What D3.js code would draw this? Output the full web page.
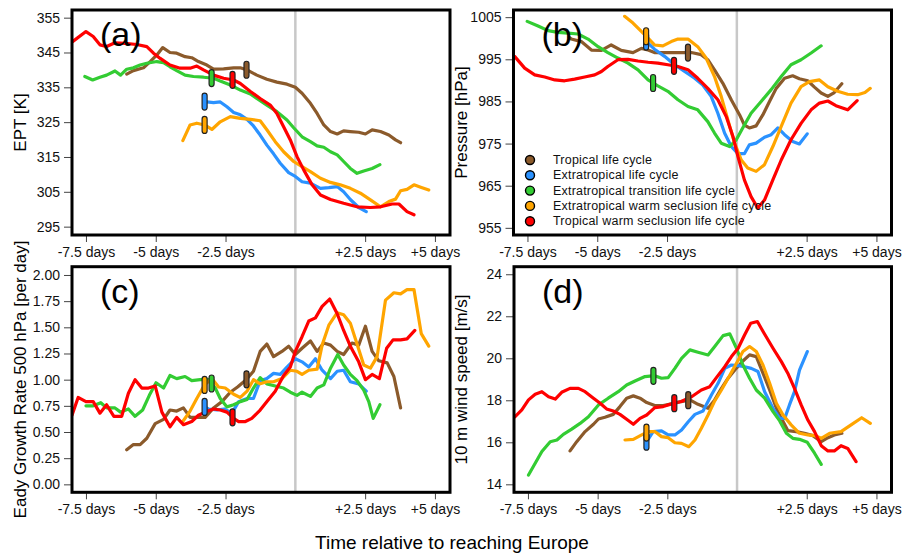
<!DOCTYPE html>
<html>
<head>
<meta charset="utf-8">
<script src="https://cdn.jsdelivr.net/npm/d3@7"></script>
<style>
  html, body { margin: 0; padding: 0; background: #fff; }
  svg { display: block; font-family: "Liberation Sans", Arial, Helvetica, sans-serif; }
</style>
</head>
<body>
<svg id="chart" width="903" height="557"></svg>
<script>
// Life-cycle groups (legend order = drawing order)
const seriesNames = [
  "Tropical life cycle",
  "Extratropical life cycle",
  "Extratropical transition life cycle",
  "Extratropical warm seclusion life cycle",
  "Tropical warm seclusion life cycle"
];
const seriesColors = ["#8B5A2B", "#2B92FF", "#33CC33", "#FFA500", "#FF0000"];
// Day on which each group's marker is placed
const markerDays = [-1.75, -3.25, -3.0, -3.25, -2.25];

// x-axis ticks (days relative to reaching Europe)
const xTickValues = [-7.5, -5, -2.5, 2.5, 5];
const xTickLabels = ["-7.5 days", "-5 days", "-2.5 days", "+2.5 days", "+5 days"];

// Panel (a): equivalent potential temperature [K], [day, value]
const eptTropical = [[-6.04,338.8],[-5.8,339.8],[-5.44,340.6],[-5.2,342.4],[-4.96,344.3],[-4.75,346.4],[-4.49,345.0],[-4.25,344.8],[-3.95,343.8],[-3.71,343.5],[-3.47,342.4],[-3.17,341.4],[-2.93,340.2],[-2.57,340.3],[-2.21,340.6],[-1.97,340.6],[-1.73,340.0],[-1.38,338.5],[-1.02,337.3],[-0.66,336.5],[-0.3,335.9],[0,335.0],[0.24,333.3],[0.54,330.4],[0.78,327.5],[1.02,324.2],[1.26,322.3],[1.5,321.6],[1.73,322.5],[1.97,322.3],[2.27,322.1],[2.51,321.6],[2.75,322.8],[3.05,322.3],[3.35,321.3],[3.59,319.9],[3.77,319.1]];
const eptExtratropical = [[-3.25,330.9],[-2.93,330.6],[-2.69,330.8],[-2.45,329.4],[-2.21,327.8],[-1.97,327.1],[-1.73,325.8],[-1.5,323.9],[-1.26,321.3],[-1.02,318.4],[-0.78,315.9],[-0.54,313.2],[-0.24,310.5],[0,309.4],[0.24,307.9],[0.54,307.5],[0.9,306.0],[1.2,306.2],[1.5,306.5],[1.73,305.0],[1.97,302.8],[2.27,300.5],[2.54,299.3]];
const eptTransition = [[-7.54,338.1],[-7.26,337.1],[-7.0,337.9],[-6.76,338.5],[-6.46,339.7],[-6.26,338.5],[-6.04,340.2],[-5.8,340.6],[-5.56,341.4],[-5.32,341.9],[-4.96,342.4],[-4.72,342.1],[-4.49,340.9],[-4.25,339.8],[-3.95,338.5],[-3.65,338.1],[-3.29,337.9],[-2.93,337.6],[-2.69,336.8],[-2.33,335.7],[-1.97,334.2],[-1.61,333.1],[-1.38,331.8],[-1.02,329.9],[-0.66,328.0],[-0.3,325.6],[-0.06,323.4],[0.24,320.8],[0.54,319.4],[0.78,318.2],[1.02,317.8],[1.26,316.5],[1.5,315.6],[1.73,313.7],[1.97,311.7],[2.21,310.3],[2.45,311.0],[2.75,311.7],[3.03,312.8]];
const eptExtraSeclusion = [[-4.03,319.7],[-3.77,324.2],[-3.53,324.7],[-3.25,324.2],[-2.99,322.9],[-2.69,325.1],[-2.33,326.6],[-1.97,326.1],[-1.61,325.8],[-1.26,325.4],[-1.02,322.8],[-0.72,319.4],[-0.42,316.5],[-0.06,313.7],[0.24,312.2],[0.54,310.8],[0.9,308.9],[1.26,307.7],[1.61,307.0],[1.97,306.0],[2.33,304.6],[2.69,302.7],[3.05,300.7],[3.35,302.2],[3.59,302.9],[3.77,305.3],[4.0,305.7],[4.25,307.0],[4.49,306.3],[4.78,305.5]];
const eptTropSeclusion = [[-7.98,348.1],[-7.5,351.0],[-7.24,349.6],[-7.0,347.2],[-6.76,346.7],[-6.46,347.8],[-6.1,347.6],[-5.68,347.3],[-5.32,346.7],[-5.08,344.8],[-4.84,343.3],[-4.49,341.4],[-4.13,340.5],[-3.77,340.5],[-3.53,341.1],[-3.29,340.0],[-2.93,338.5],[-2.57,337.6],[-2.21,337.1],[-1.97,336.1],[-1.61,333.8],[-1.26,331.8],[-0.9,329.9],[-0.66,327.5],[-0.42,323.7],[-0.18,319.9],[0.06,315.1],[0.3,311.3],[0.6,307.0],[0.9,304.1],[1.26,302.8],[1.73,301.7],[2.21,300.7],[2.69,300.5],[3.05,300.7],[3.47,301.5],[3.71,301.5],[4.0,299.3],[4.25,298.4]];

// Panel (b): minimum pressure [hPa]
const presTropical = [[-6.0,1000.2],[-5.93,999.8],[-5.57,999.2],[-5.21,997.2],[-4.85,997.1],[-4.5,998.4],[-4.14,997.1],[-3.72,996.6],[-3.42,997.6],[-3.18,997.2],[-2.95,996.6],[-2.59,996.6],[-2.11,996.6],[-1.63,996.6],[-1.28,996.1],[-1.04,994.9],[-0.8,992.5],[-0.5,989.3],[-0.2,985.4],[0.1,981.8],[0.27,979.4],[0.45,978.7],[0.69,979.2],[0.93,981.8],[1.17,985.0],[1.41,988.1],[1.71,990.5],[2.0,991.1],[2.24,990.4],[2.54,989.9],[2.78,988.4],[3.02,987.0],[3.26,986.2],[3.49,987.1],[3.76,989.2]];
const presExtratropical = [[-3.24,999.2],[-2.95,997.4],[-2.59,995.7],[-2.23,993.7],[-1.87,992.1],[-1.51,990.5],[-1.22,988.9],[-0.92,986.2],[-0.68,982.2],[-0.44,977.5],[-0.2,974.3],[0.04,972.6],[0.27,972.6],[0.45,974.7],[0.69,975.1],[0.99,976.5],[1.23,977.1],[1.47,978.7],[1.71,977.1],[2.0,975.5],[2.24,974.9],[2.52,977.3]];
const presTransition = [[-7.51,1004.0],[-7.12,1002.9],[-6.76,1001.8],[-6.41,1001.4],[-6.05,1001.2],[-5.69,1001.0],[-5.33,999.8],[-4.97,998.0],[-4.62,996.6],[-4.26,995.3],[-3.9,994.1],[-3.54,992.5],[-3.18,990.1],[-2.83,988.7],[-2.47,987.4],[-2.11,985.4],[-1.75,983.8],[-1.4,983.0],[-1.04,980.2],[-0.8,977.5],[-0.56,975.1],[-0.26,974.3],[-0.02,975.9],[0.21,978.7],[0.51,982.2],[0.87,985.0],[1.23,987.8],[1.59,990.9],[1.94,993.7],[2.3,994.9],[2.66,996.5],[3.02,998.2]];
const presExtraSeclusion = [[-4.02,1005.2],[-3.72,1003.6],[-3.42,1001.6],[-3.18,1000.0],[-2.95,998.4],[-2.65,998.2],[-2.35,999.2],[-2.11,999.8],[-1.75,999.8],[-1.4,998.0],[-1.1,995.3],[-0.8,990.9],[-0.56,986.2],[-0.32,980.6],[-0.08,975.1],[0.16,971.1],[0.39,969.2],[0.69,968.4],[0.99,970.0],[1.29,974.3],[1.59,979.1],[1.94,984.6],[2.3,988.5],[2.6,989.7],[2.96,990.1],[3.26,988.5],[3.61,987.4],[3.97,986.7],[4.33,986.6],[4.59,987.1],[4.78,988.1]];
const presTropSeclusion = [[-7.96,995.7],[-7.6,992.9],[-7.24,991.3],[-6.88,990.8],[-6.52,990.1],[-6.17,989.9],[-5.81,990.3],[-5.45,990.8],[-5.09,991.3],[-4.85,992.1],[-4.62,993.3],[-4.26,994.9],[-3.9,995.0],[-3.54,994.6],[-3.18,994.3],[-2.83,994.1],[-2.47,993.7],[-2.11,993.3],[-1.75,992.5],[-1.4,990.5],[-1.04,988.1],[-0.68,985.4],[-0.38,981.4],[-0.14,976.7],[0.04,971.9],[0.27,966.4],[0.51,962.4],[0.75,959.7],[0.99,961.6],[1.29,966.4],[1.59,971.1],[1.94,975.9],[2.3,979.8],[2.66,983.0],[2.96,984.6],[3.26,985.1],[3.55,984.0],[3.97,983.0],[4.31,985.2]];

// Panel (c): Eady growth rate at 500 hPa [per day]
const eadyTropical = [[-6.04,0.33],[-5.8,0.38],[-5.56,0.38],[-5.32,0.44],[-5.02,0.58],[-4.72,0.62],[-4.49,0.71],[-4.25,0.70],[-4.01,0.73],[-3.77,0.64],[-3.53,0.64],[-3.23,0.64],[-2.93,0.73],[-2.63,0.79],[-2.33,0.88],[-2.07,0.93],[-1.76,1.0],[-1.5,1.08],[-1.26,1.27],[-1.02,1.34],[-0.78,1.22],[-0.48,1.27],[-0.24,1.32],[0,1.24],[0.24,1.3],[0.54,1.37],[0.78,1.27],[1.02,1.35],[1.26,1.33],[1.5,1.27],[1.73,1.24],[2.03,1.35],[2.27,1.33],[2.51,1.51],[2.75,1.27],[2.99,1.18],[3.29,1.16],[3.53,1.03],[3.77,0.73]];
const eadyExtratropical = [[-3.25,0.74],[-3.11,0.72],[-2.81,0.71],[-2.55,0.72],[-2.27,0.68],[-2.03,0.79],[-1.73,0.82],[-1.5,0.82],[-1.26,0.99],[-1.02,1.01],[-0.78,1.06],[-0.54,1.05],[-0.3,1.12],[0,1.2],[0.24,1.17],[0.48,1.12],[0.72,1.2],[0.96,1.09],[1.26,1.01],[1.5,1.08],[1.73,1.09],[1.97,0.98],[2.27,0.96],[2.54,0.89]];
const eadyTransition = [[-7.5,0.75],[-7.24,0.75],[-6.97,0.78],[-6.76,0.73],[-6.46,0.73],[-6.26,0.69],[-5.98,0.72],[-5.74,0.65],[-5.47,0.71],[-5.23,0.85],[-4.99,0.97],[-4.72,0.92],[-4.49,1.04],[-4.25,1.01],[-3.95,1.03],[-3.71,0.99],[-3.41,1.0],[-3.11,1.0],[-2.87,0.92],[-2.69,0.82],[-2.45,0.74],[-2.21,0.76],[-1.97,0.79],[-1.73,0.81],[-1.5,0.92],[-1.26,1.02],[-1.02,0.96],[-0.72,0.94],[-0.42,0.92],[-0.18,0.88],[0.06,0.85],[0.24,0.88],[0.54,0.84],[0.78,0.92],[1.02,0.95],[1.26,1.11],[1.52,1.24],[1.73,1.14],[1.97,1.05],[2.21,0.99],[2.45,0.9],[2.63,0.79],[2.79,0.63],[3.03,0.76]];
const eadyExtraSeclusion = [[-4.03,0.6],[-3.77,0.7],[-3.53,0.82],[-3.25,0.95],[-2.99,1.01],[-2.75,0.93],[-2.51,0.92],[-2.21,0.86],[-1.97,0.83],[-1.73,0.89],[-1.5,1.0],[-1.26,0.96],[-1.02,0.98],[-0.78,0.98],[-0.48,1.01],[-0.18,1.09],[0.06,1.08],[0.24,1.05],[0.48,1.09],[0.78,1.1],[0.96,1.33],[1.2,1.52],[1.5,1.64],[1.73,1.62],[1.97,1.54],[2.21,1.34],[2.45,1.14],[2.69,1.11],[2.93,1.22],[3.23,1.76],[3.53,1.83],[3.77,1.82],[4.0,1.86],[4.25,1.86],[4.51,1.44],[4.78,1.32]];
const eadyTropSeclusion = [[-8.0,0.66],[-7.78,0.83],[-7.5,0.79],[-7.24,0.79],[-7.0,0.68],[-6.76,0.76],[-6.5,0.65],[-6.22,0.65],[-5.98,0.87],[-5.74,1.0],[-5.5,0.92],[-5.26,0.92],[-5.02,0.94],[-4.78,0.69],[-4.49,0.55],[-4.25,0.64],[-4.01,0.57],[-3.71,0.6],[-3.47,0.66],[-3.23,0.69],[-2.93,0.72],[-2.69,0.71],[-2.45,0.69],[-2.21,0.63],[-2.03,0.6],[-1.79,0.6],[-1.56,0.63],[-1.26,0.71],[-0.96,0.81],[-0.72,0.89],[-0.42,1.04],[-0.18,1.12],[0,1.27],[0.24,1.41],[0.48,1.56],[0.72,1.59],[0.96,1.70],[1.23,1.77],[1.5,1.63],[1.73,1.47],[1.97,1.32],[2.27,1.17],[2.51,1.0],[2.75,1.05],[3.01,1.01],[3.27,1.30],[3.5,1.38],[3.77,1.38],[4.0,1.39],[4.28,1.47]];

// Panel (d): 10 m wind speed [m/s]
const windTropical = [[-5.99,15.59],[-5.75,16.03],[-5.45,16.51],[-5.15,16.86],[-4.97,17.11],[-4.74,17.19],[-4.44,17.33],[-4.2,17.7],[-3.96,18.1],[-3.72,18.21],[-3.48,18.1],[-3.24,17.89],[-2.95,17.75],[-2.65,17.75],[-2.35,17.83],[-2.0,17.94],[-1.69,18.02],[-1.4,17.81],[-1.04,17.62],[-0.8,18.02],[-0.56,18.57],[-0.32,19.05],[-0.08,19.44],[0.21,19.87],[0.45,20.16],[0.69,20.08],[0.93,19.29],[1.17,18.49],[1.41,17.62],[1.59,17.14],[1.82,16.56],[2.12,16.51],[2.42,16.43],[2.72,16.32],[3.02,16.03],[3.26,16.22],[3.49,16.35],[3.76,16.43]];
const windExtratropical = [[-3.24,16.03],[-3.01,16.51],[-2.71,16.54],[-2.47,16.35],[-2.23,16.35],[-1.99,16.59],[-1.75,16.98],[-1.51,17.33],[-1.22,17.49],[-0.92,18.25],[-0.68,18.81],[-0.44,19.52],[-0.2,19.68],[0.04,19.65],[0.27,19.6],[0.51,19.52],[0.75,19.37],[0.99,18.41],[1.29,17.62],[1.53,17.14],[1.71,17.14],[1.88,17.78],[2.06,18.41],[2.24,19.44],[2.52,20.32]];
const windTransition = [[-7.48,14.44],[-7.24,15.0],[-7.0,15.56],[-6.7,16.03],[-6.46,16.11],[-6.23,16.38],[-5.93,16.63],[-5.63,16.9],[-5.33,17.22],[-4.97,17.78],[-4.62,18.1],[-4.26,18.41],[-3.96,18.73],[-3.66,18.92],[-3.3,19.13],[-2.95,19.17],[-2.71,19.05],[-2.47,19.08],[-2.23,19.52],[-1.99,20.0],[-1.69,20.4],[-1.4,20.29],[-1.04,20.16],[-0.8,20.56],[-0.5,21.08],[-0.26,21.16],[-0.02,20.48],[0.21,19.68],[0.45,19.05],[0.69,18.49],[0.99,18.1],[1.29,17.46],[1.53,17.02],[1.77,16.43],[2.0,16.19],[2.24,16.14],[2.52,16.0],[2.78,15.48],[3.02,14.95]];
const windExtraSeclusion = [[-4.02,16.11],[-3.72,16.14],[-3.42,16.35],[-3.18,16.51],[-2.95,16.51],[-2.71,16.27],[-2.47,16.22],[-2.23,15.98],[-1.99,15.95],[-1.73,15.79],[-1.51,16.11],[-1.28,16.67],[-1.04,17.3],[-0.8,17.97],[-0.56,18.49],[-0.32,19.05],[-0.02,19.76],[0.21,20.32],[0.45,20.56],[0.69,20.32],[0.93,19.68],[1.17,18.81],[1.41,17.86],[1.65,17.3],[1.94,16.83],[2.24,16.43],[2.54,16.35],[2.78,16.32],[3.02,16.19],[3.32,16.43],[3.73,16.51],[4.09,16.83],[4.47,17.17],[4.78,16.9]];
const windTropSeclusion = [[-7.96,17.22],[-7.72,17.54],[-7.48,18.02],[-7.24,18.29],[-7.0,18.41],[-6.76,18.17],[-6.52,18.06],[-6.29,18.38],[-5.99,18.57],[-5.69,18.57],[-5.45,18.41],[-5.15,18.1],[-4.91,17.86],[-4.68,17.59],[-4.44,17.49],[-4.2,17.33],[-3.96,17.1],[-3.72,16.86],[-3.48,17.14],[-3.24,17.3],[-2.95,17.65],[-2.65,17.7],[-2.35,17.83],[-2.0,17.94],[-1.63,18.17],[-1.28,18.49],[-0.98,18.65],[-0.74,19.08],[-0.44,19.6],[-0.2,20.08],[0.04,20.48],[0.27,21.11],[0.49,21.67],[0.73,21.75],[0.97,21.19],[1.29,20.48],[1.59,19.84],[1.82,19.29],[2.06,18.57],[2.3,17.78],[2.54,17.06],[2.78,16.51],[3.02,15.84],[3.26,15.59],[3.49,15.59],[3.73,15.84],[3.97,15.71],[4.27,15.08]];

// y-axis ticks per panel
const eptTicks = [295, 305, 315, 325, 335, 345, 355];
const presTicks = [955, 965, 975, 985, 995, 1005];
const eadyTicks = [0, 0.25, 0.5, 0.75, 1.0, 1.25, 1.5, 1.75, 2.0];
const windTicks = [14, 16, 18, 20, 22, 24];

const svg = d3.select("#chart");

const panels = [
  { tag: "(a)", title: "EPT [K]", box: [72, 10, 450, 235], yDomain: [292.6, 357.2],
    ticks: eptTicks, fmt: d3.format("d"), titleX: 20,
    series: [eptTropical, eptExtratropical, eptTransition, eptExtraSeclusion, eptTropSeclusion] },
  { tag: "(b)", title: "Pressure [hPa]", box: [513.5, 10, 891.5, 235], yDomain: [953.3, 1006.7],
    ticks: presTicks, fmt: d3.format("d"), titleX: 461, legend: true,
    series: [presTropical, presExtratropical, presTransition, presExtraSeclusion, presTropSeclusion] },
  { tag: "(c)", title: "Eady Growth Rate 500 hPa [per day]", box: [72, 266.7, 450, 492.3], yDomain: [-0.076, 2.079],
    ticks: eadyTicks, fmt: d3.format(".2f"), titleX: 20,
    series: [eadyTropical, eadyExtratropical, eadyTransition, eadyExtraSeclusion, eadyTropSeclusion] },
  { tag: "(d)", title: "10 m wind speed [m/s]", box: [514, 266.7, 891.5, 492.3], yDomain: [13.62, 24.36],
    ticks: windTicks, fmt: d3.format("d"), titleX: 461,
    series: [windTropical, windExtratropical, windTransition, windExtraSeclusion, windTropSeclusion] }
];

// linear lookup of a series value at a given day (for marker placement)
function valueAt(series, day) {
  for (let i = 0; i < series.length - 1; i++) {
    const [x0, y0] = series[i], [x1, y1] = series[i + 1];
    if (day >= x0 && day <= x1) return y0 + (y1 - y0) * (day - x0) / (x1 - x0);
  }
  return day <= series[0][0] ? series[0][1] : series[series.length - 1][1];
}

panels.forEach((p, pi) => {
  const [x0, y0, x1, y1] = p.box;
  const x = d3.scaleLinear().domain([-8, 5.54]).range([x0, x1]);
  const y = d3.scaleLinear().domain(p.yDomain).range([y1, y0]);
  const g = svg.append("g");

  const clipId = "clip" + pi;
  g.append("clipPath").attr("id", clipId)
    .append("rect").attr("x", x0).attr("y", y0).attr("width", x1 - x0).attr("height", y1 - y0);

  // y axis
  const yAxis = d3.axisLeft(y).tickValues(p.ticks).tickFormat(p.fmt).tickSize(7).tickPadding(4);
  g.append("g").attr("transform", `translate(${x0 - 1},0)`).call(yAxis)
    .call(s => s.select(".domain").remove())
    .call(s => s.selectAll(".tick line").attr("stroke", "#444"))
    .call(s => s.selectAll("text").attr("font-size", 14).attr("fill", "#111")
      .attr("font-family", "'Liberation Sans', Arial, sans-serif"));

  // x axis
  const xAxis = d3.axisBottom(x).tickValues(xTickValues)
    .tickFormat((d, i) => xTickLabels[i]).tickSize(6).tickPadding(5);
  g.append("g").attr("transform", `translate(0,${y1 + 1})`).call(xAxis)
    .call(s => s.select(".domain").remove())
    .call(s => s.selectAll(".tick line").attr("stroke", "#444"))
    .call(s => s.selectAll("text").attr("font-size", 14).attr("fill", "#111")
      .attr("font-family", "'Liberation Sans', Arial, sans-serif"));

  // y-axis title
  g.append("text")
    .attr("transform", `translate(${p.titleX},${(y0 + y1) / 2}) rotate(-90)`)
    .attr("text-anchor", "middle").attr("dominant-baseline", "central")
    .attr("font-size", 17).attr("fill", "#000").text(p.title);

  // reference line at arrival in Europe
  g.append("line").attr("x1", x(0)).attr("x2", x(0)).attr("y1", y0).attr("y2", y1)
    .attr("stroke", "#c8c8c8").attr("stroke-width", 2.5);

  const plot = g.append("g").attr("clip-path", `url(#${clipId})`);
  const line = d3.line().x(d => x(d[0])).y(d => y(d[1]));

  // panel tag
  g.append("text").attr("x", x0 + 28).attr("y", y0 + 36)
    .attr("font-size", 34).attr("fill", "#000").text(p.tag);

  p.series.forEach((s, si) => {
    plot.append("path").datum(s).attr("d", line)
      .attr("fill", "none").attr("stroke", seriesColors[si])
      .attr("stroke-width", 3.2).attr("stroke-linejoin", "round").attr("stroke-linecap", "round");
  });

  // legend (drawn above the curves, below the markers)
  if (p.legend) {
    const lg = g.append("g");
    seriesNames.forEach((name, i) => {
      const cy = 160 + i * 15.3;
      lg.append("circle").attr("cx", 530).attr("cy", cy).attr("r", 4.5)
        .attr("fill", seriesColors[i]).attr("stroke", "#000").attr("stroke-width", 1.4);
      lg.append("text").attr("x", 553).attr("y", cy).attr("dominant-baseline", "central")
        .attr("font-size", 12.5).attr("fill", "#111").attr("letter-spacing", 0.2).text(name);
    });
  }

  // onset markers
  p.series.forEach((s, si) => {
    const d = markerDays[si];
    const v = valueAt(s, d);
    plot.append("rect")
      .attr("x", x(d) - 2.5).attr("y", y(v) - 8.5)
      .attr("width", 5).attr("height", 17).attr("rx", 2.5)
      .attr("fill", seriesColors[si]).attr("stroke", "#222").attr("stroke-width", 1.2);
  });

  // frame
  g.append("rect").attr("x", x0).attr("y", y0).attr("width", x1 - x0).attr("height", y1 - y0)
    .attr("fill", "none").attr("stroke", "#000").attr("stroke-width", 3);
});

// shared x-axis title
svg.append("text").attr("x", 452).attr("y", 542).attr("text-anchor", "middle")
  .attr("dominant-baseline", "central").attr("font-size", 19).attr("fill", "#000")
  .text("Time relative to reaching Europe");
</script>
</body>
</html>
